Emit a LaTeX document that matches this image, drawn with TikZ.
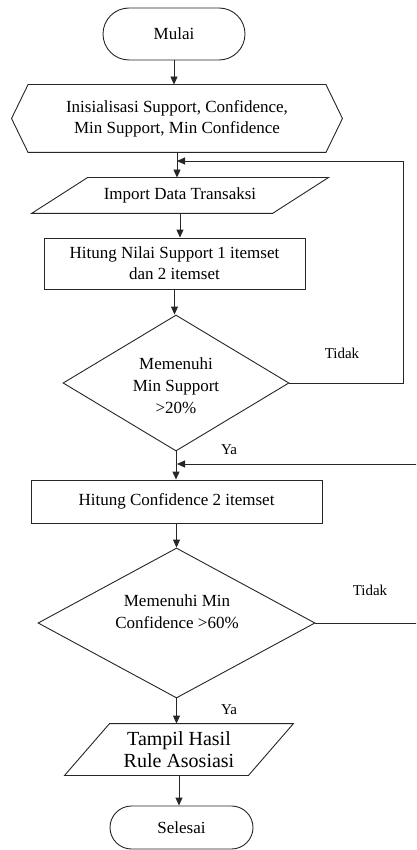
\documentclass[tikz,border=0pt]{standalone}
\usepackage{fontspec}
\setmainfont{Liberation Serif}
\usetikzlibrary{shapes.geometric,shapes.misc,arrows.meta}
\begin{document}
\begin{tikzpicture}[x=1pt,y=-1pt,
  line width=0.9pt, draw=black!85,
  base/.style={font=\fontsize{17}{21}\selectfont, align=center, inner sep=0pt, text=black},
  term/.style={base, draw, rounded rectangle},
  procbox/.style={base, draw},
  dia/.style={draw, diamond, inner sep=0pt, aspect=1},
  lab/.style={font=\fontsize{15}{17}\selectfont, inner sep=0pt},
  arr/.style={-{Triangle[length=8pt,width=7pt]}}]
\useasboundingbox (0,0) rectangle (416,850);
\clip (0,0) rectangle (416,850);
\fill[white] (0,0) rectangle (416,850);

% nodes
\node[term, minimum width=142pt, minimum height=52pt] (mulai) at (174,34) {Mulai};

\node[base, minimum width=330pt, minimum height=67pt] (init) at (177,118.5)
  {Inisialisasi Support, Confidence,\\Min Support, Min Confidence};
\draw (init.west) -- ([xshift=16.5pt]init.north west) -- ([xshift=-16.5pt]init.north east)
  -- (init.east) -- ([xshift=-16.5pt]init.south east) -- ([xshift=16.5pt]init.south west) -- cycle;

\node[base, minimum width=240pt, minimum height=35pt] (import) at (180,195.5) {Import Data Transaksi};
\draw ([xshift=-28pt]import.south west) -- ([xshift=-28pt]import.south east)
  -- ([xshift=28pt]import.north east) -- ([xshift=28pt]import.north west) -- cycle;

\node[procbox, minimum width=261pt, minimum height=51pt] (nilai) at (174.5,263.5)
  {Hitung Nilai Support 1 itemset\\dan 2 itemset};

\node[dia, minimum width=226pt, minimum height=136pt] (d1) at (176,383) {};
\node[base, font=\fontsize{17}{22}\selectfont] (d1t) at (176,386) {Memenuhi\\Min Support\\>20\%};

\node[procbox, minimum width=291pt, minimum height=43pt] (conf) at (176.5,501.5) {Hitung Confidence 2 itemset};

\node[dia, minimum width=277pt, minimum height=150pt] (d2) at (176.5,623) {};
\node[base, font=\fontsize{17}{22}\selectfont] (d2t) at (177,612) {Memenuhi Min\\Confidence >60\%};

\node[base, font=\fontsize{20}{22}\selectfont, minimum width=183pt, minimum height=51pt] (tampil) at (179,749.5)
  {Tampil Hasil\\Rule Asosiasi};
\draw ([xshift=-22.5pt]tampil.south west) -- ([xshift=-22.5pt]tampil.south east)
  -- ([xshift=22.5pt]tampil.north east) -- ([xshift=22.5pt]tampil.north west) -- cycle;

\node[term, minimum width=143pt, minimum height=43pt] (selesai) at (181.5,827.5) {Selesai};

% labels
\node[lab] (tidak1) at (342,353) {Tidak};
\node[lab] (ya1) at (229,450) {Ya};
\node[lab] (tidak2) at (370,590) {Tidak};
\node[lab] (ya2) at (229,710) {Ya};

% junctions
\coordinate (j1) at (177,161);
\coordinate (j2) at (177,464);

% connectors
\draw[arr] (mulai.south) -- (mulai.south |- init.north);
\draw[arr] (init.south) -- (init.south |- import.north);
\draw[arr] (import.south) -- (import.south |- nilai.north);
\draw[arr] (nilai.south) -- (nilai.south |- d1.north);
\draw[arr] (d1.south) -- (d1.south |- conf.north);
\draw[arr] (conf.south) -- (conf.south |- d2.north);
\draw[arr] (d2.south) -- (d2.south |- tampil.north);
\draw[arr] (tampil.south) -- (tampil.south |- selesai.north);

\draw[arr] (d1.east) -- ++(114,0) |- (j1);
\draw[arr] (d2.east) -- ++(115,0) |- (j2);
\end{tikzpicture}
\end{document}
